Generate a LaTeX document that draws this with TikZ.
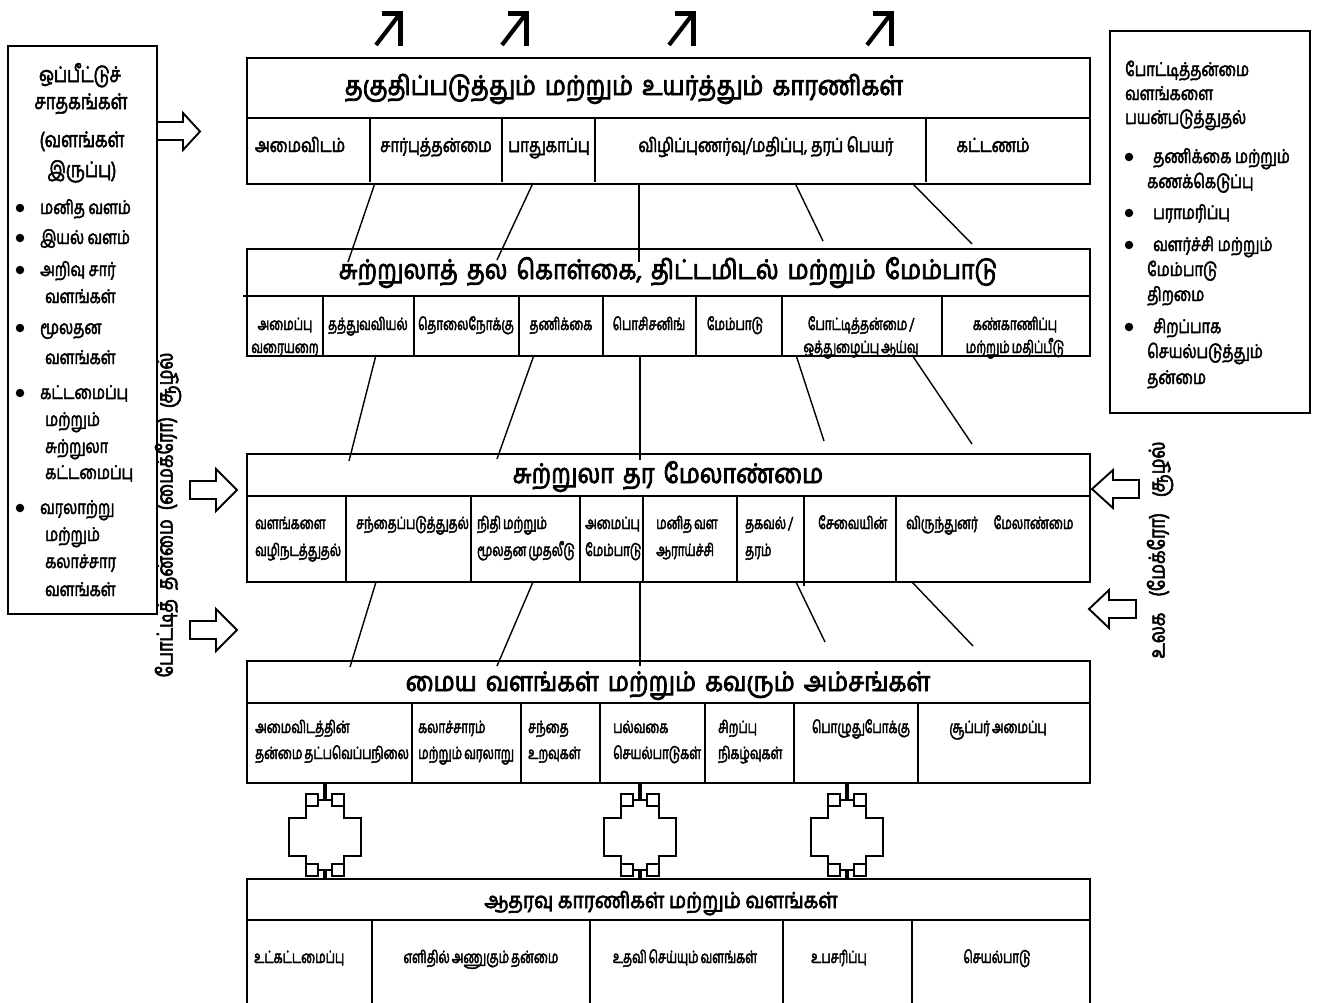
\documentclass[tikz,border=0pt]{standalone}
\usepackage{fontspec}
\setmainfont{Hind Madurai}[Script=Tamil]
\newfontfamily\tamT{Hind Madurai}[Script=Tamil, FakeStretch=0.87, FakeBold=3]
\newfontfamily\tamC{Hind Madurai}[Script=Tamil, FakeStretch=0.69, FakeBold=2.5, WordSpace=0.7]
\newfontfamily\tamS{Hind Madurai}[Script=Tamil, FakeStretch=0.77, FakeBold=2.5]
\newfontfamily\tamR{Hind Madurai}[Script=Tamil, FakeStretch=0.80, FakeBold=2.8]
\newcommand\ornmt[1]{%
  \begin{scope}[shift={(#1,0)}]
    \draw[stem] (0,782) -- (0,800);
    \draw[orn] (-7,800) -- (7,800);
    \draw[orn] (-19,794) rectangle (-7,806);
    \draw[orn] (7,794) rectangle (19,806);
    \draw[orn] (-19,806) -- (-19,818) -- (-36,818) -- (-36,856) -- (-19,856) -- (-19,864);
    \draw[orn] (19,806) -- (19,818) -- (36,818) -- (36,856) -- (19,856) -- (19,864);
    \draw[orn] (-19,864) rectangle (-7,876);
    \draw[orn] (7,864) rectangle (19,876);
    \draw[orn] (-7,870) -- (7,870);
    \draw[stem] (0,870) -- (0,880);
  \end{scope}}
\newcommand\smallarrow[1]{%
  \draw[sarr,line cap=butt] (#1+2,45) -- (#1+25,15);
  \draw[sarr,line cap=butt,line join=miter] (#1+8,13.5) -- (#1+26.5,13.5) -- (#1+26.5,46);}
\newcommand\wsp{\hspace{9pt}}
\begin{document}
\begin{tikzpicture}[x=1pt,y=-1pt,
  lay/.style={draw,line width=2pt,inner sep=0pt,anchor=north west,minimum width=843},
  rule/.style={line width=1.8pt},
  cdiv/.style={line width=1.5pt},
  conn/.style={line width=1.4pt},
  ttl/.style={font=\tamT\fontsize{27}{30}\selectfont,inner sep=0pt,anchor=base},
  cell/.style={font=\tamC\fontsize{17}{25}\selectfont,inner sep=0pt,anchor=base},
  cellw/.style={cell,anchor=base west},
  cellL/.style={font=\tamS\fontsize{19.5}{25}\selectfont,inner sep=0pt,anchor=base},
  side/.style={font=\tamS\fontsize{19}{26}\selectfont,inner sep=0pt,anchor=base west},
  sidec/.style={font=\tamS\fontsize{21.5}{26}\selectfont,inner sep=0pt,anchor=base},
  rot/.style={font=\tamR\fontsize{22}{24}\selectfont,inner sep=0pt,rotate=90},
  barrow/.style={draw,line width=1.9pt,line join=miter},
  stem/.style={line width=3.6pt},
  orn/.style={line width=1.8pt},
  sarr/.style={line width=4.2pt},
  bul/.style={fill,circle,inner sep=0pt,minimum size=8.5}
]
\useasboundingbox (0,0) rectangle (1317,1002);

% top small arrows
\smallarrow{374}
\smallarrow{500}
\smallarrow{667}
\smallarrow{865}

% ---------- layer 1
\node[lay,minimum height=126] (L1) at (246,57) {};
\draw[rule] (246,118) -- (1089,118);
\foreach \x in {370,502,595,926} \draw[cdiv] (\x,118) -- (\x,182);
\node[ttl] (t1) at (624,95) {தகுதிப்படுத்தும்\wsp மற்றும்\wsp உயர்த்தும்\wsp காரணிகள்};
\node[cellL] (a1) at (300,152) {அமைவிடம்};
\node[cellL] (a2) at (436,152) {சார்புத்தன்மை};
\node[cellL] (a3) at (549,152) {பாதுகாப்பு};
\node[cellL] (a4) at (766,152) {விழிப்புணர்வு/மதிப்பு, தரப் பெயர்};
\node[cellL] (a5) at (993,152) {கட்டணம்};

% ---------- layer 2
\node[lay,minimum height=107] (L2) at (246,248) {};
\draw[rule] (243,296) -- (1089,296);
\foreach \x in {323,414,519,603,696,782,942} \draw[cdiv] (\x,296) -- (\x,355);
\node[ttl] (t2) at (668,279) {சுற்றுலாத்\wsp தல\wsp கொள்கை,\wsp திட்டமிடல்\wsp மற்றும்\wsp மேம்பாடு};
\node[cell] (b1a) at (285,330) {அமைப்பு};
\node[cell] (b1b) at (285,353) {வரையறை};
\node[cell] (b2) at (368,330) {தத்துவவியல்};
\node[cell] (b3) at (466,330) {தொலைநோக்கு};
\node[cell] (b4) at (561,330) {தணிக்கை};
\node[cell] (b5) at (649,330) {பொசிசனிங்};
\node[cell] (b6) at (735,330) {மேம்பாடு};
\node[cell] (b7a) at (861,330) {போட்டித்தன்மை /};
\node[cell] (b7b) at (861,353) {ஒத்துழைப்பு ஆய்வு};
\node[cell] (b8a) at (1015,330) {கண்காணிப்பு};
\node[cell] (b8b) at (1015,353) {மற்றும் மதிப்பீடு};

% ---------- layer 3
\node[lay,minimum height=128] (L3) at (246,453) {};
\draw[rule] (246,496) -- (1089,496);
\foreach \x in {346,471,580,643,737,896} \draw[cdiv] (\x,496) -- (\x,581);
\draw[cdiv] (804,496) -- (804,586);
\node[ttl] (t3) at (668,483) {சுற்றுலா\wsp தர\wsp மேலாண்மை};
\node[cellw] (c1a) at (255,529) {வளங்களை};
\node[cellw] (c1b) at (255,556) {வழிநடத்துதல்};
\node[cellw] (c2) at (356,529) {சந்தைப்படுத்துதல்};
\node[cellw] (c3a) at (477,529) {நிதி மற்றும்};
\node[cellw] (c3b) at (477,556) {மூலதன முதலீடு};
\node[cellw] (c4a) at (585,529) {அமைப்பு};
\node[cellw] (c4b) at (585,556) {மேம்பாடு};
\node[cellw] (c5a) at (656,529) {மனித வள};
\node[cellw] (c5b) at (656,556) {ஆராய்ச்சி};
\node[cellw] (c6a) at (745,529) {தகவல் /};
\node[cellw] (c6b) at (745,556) {தரம்};
\node[cellw] (c7) at (818,529) {சேவையின்};
\node[cellw] (c8) at (906,529) {விருந்துனர்\hspace{16pt}மேலாண்மை};

% ---------- layer 4
\node[lay,minimum height=122] (L4) at (246,660) {};
\draw[rule] (246,703) -- (1089,703);
\foreach \x in {412,521,600,705,794,918} \draw[cdiv] (\x,703) -- (\x,782);
\node[ttl] (t4) at (668,691) {மைய\wsp வளங்கள்\wsp மற்றும்\wsp கவரும்\wsp அம்சங்கள்};
\node[cellw] (d1a) at (255,733) {அமைவிடத்தின்};
\node[cellw] (d1b) at (255,759) {தன்மை தட்பவெப்பநிலை};
\node[cellw] (d2a) at (418,733) {கலாச்சாரம்};
\node[cellw] (d2b) at (418,759) {மற்றும் வரலாறு};
\node[cellw] (d3a) at (528,733) {சந்தை};
\node[cellw] (d3b) at (528,759) {உறவுகள்};
\node[cellw] (d4a) at (613,733) {பல்வகை};
\node[cellw] (d4b) at (613,759) {செயல்பாடுகள்};
\node[cellw] (d5a) at (718,733) {சிறப்பு};
\node[cellw] (d5b) at (718,759) {நிகழ்வுகள்};
\node[cell] (d6) at (861,733) {பொழுதுபோக்கு};
\node[cell] (d7) at (998,733) {சூப்பர் அமைப்பு};

% ---------- layer 5
\node[lay,minimum height=140] (L5) at (246,878) {};
\draw[rule] (246,920) -- (1089,920);
\foreach \x in {372,590,783,912} \draw[cdiv] (\x,920) -- (\x,1010);
\node[ttl,font=\tamT\fontsize{22}{26}\selectfont] (t5) at (661,908) {ஆதரவு காரணிகள் மற்றும் வளங்கள்};
\node[cellw] (e1) at (254,963) {உட்கட்டமைப்பு};
\node[cell] (e2) at (481,963) {எளிதில் அணுகும் தன்மை};
\node[cell] (e3) at (685,963) {உதவி செய்யும் வளங்கள்};
\node[cell] (e4) at (839,963) {உபசரிப்பு};
\node[cell] (e5) at (997,963) {செயல்பாடு};

% ---------- connectors
\foreach \a/\b/\c/\d in {375/183/348/262, 533/183/497/260, 639/183/639/262, 795/183/823/241, 912/183/972/244,
  376/355/349/461, 534/355/497/459, 640/355/640/460, 796/355/824/441, 912/355/972/444,
  376/582/350/667, 533/582/497/666, 640/582/640/666, 796/582/825/642, 912/582/973/646}
  {\coordinate (p) at (\a,\b); \coordinate (q) at (\c,\d); \draw[conn] (p) -- (q);}

% ornaments
\ornmt{325}
\ornmt{640}
\ornmt{847}

% ---------- left box
\node[draw,line width=2pt,anchor=north west,minimum width=149,minimum height=568,inner sep=0pt] (LB) at (7,45) {};
\node[sidec] (l1) at (80,82) {ஒப்பீட்டுச்};
\node[sidec] (l2) at (81,109) {சாதகங்கள்};
\node[sidec] (l3) at (82,147) {(வளங்கள்};
\node[sidec] (l4) at (82,177) {இருப்பு)};
\foreach \y [count=\i] in {208,238,270,328,393,508} \node[bul] (lbb\i) at (20,\y) {};
\node[side] (l5) at (40,214) {மனித வளம்};
\node[side] (l6) at (40,244) {இயல் வளம்};
\node[side] (l7) at (40,276) {அறிவு சார்};
\node[side] (l8) at (45,303) {வளங்கள்};
\node[side] (l9) at (40,334) {மூலதன};
\node[side] (l10) at (45,364) {வளங்கள்};
\node[side] (l11) at (40,399) {கட்டமைப்பு};
\node[side] (l12) at (45,426) {மற்றும்};
\node[side] (l13) at (45,453) {சுற்றுலா};
\node[side] (l14) at (45,479) {கட்டமைப்பு};
\node[side] (l15) at (40,514) {வரலாற்று};
\node[side] (l16) at (45,541) {மற்றும்};
\node[side] (l17) at (45,568) {கலாச்சார};
\node[side] (l18) at (45,596) {வளங்கள்};

% ---------- right box
\node[draw,line width=2pt,anchor=north west,minimum width=200,minimum height=382,inner sep=0pt] (RB) at (1109,30) {};
\node[side] (r1) at (1125,76) {போட்டித்தன்மை};
\node[side] (r2) at (1125,100) {வளங்களை};
\node[side] (r3) at (1125,124) {பயன்படுத்துதல்};
\foreach \y [count=\i] in {157,213,245,327} \node[bul] (rbb\i) at (1129,\y) {};
\node[side] (r4) at (1153,163) {தணிக்கை மற்றும்};
\node[side] (r5) at (1147,188) {கணக்கெடுப்பு};
\node[side] (r6) at (1153,219) {பராமரிப்பு};
\node[side] (r7) at (1153,251) {வளர்ச்சி மற்றும்};
\node[side] (r8) at (1147,276) {மேம்பாடு};
\node[side] (r9) at (1147,301) {திறமை};
\node[side] (r10) at (1153,333) {சிறப்பாக};
\node[side] (r11) at (1147,358) {செயல்படுத்தும்};
\node[side] (r12) at (1147,384) {தன்மை};

% ---------- rotated labels
\node[rot] (micro) at (168,515) {போட்டித்\wsp தன்மை\wsp (மைக்ரோ)\wsp சூழல்};
\node[rot] (macro) at (1160,550) {உலக\hspace{16pt}(மேக்ரோ)\hspace{16pt}சூழல்};

% ---------- block arrows
\draw[barrow] (156,122) -- (183,122) -- (183,113) -- (200,131.5) -- (183,150) -- (183,140) -- (156,140);
\draw[barrow] (190,481) -- (216,481) -- (216,469) -- (237,490) -- (216,511) -- (216,499) -- (190,499) -- cycle;
\draw[barrow] (190,621) -- (216,621) -- (216,609) -- (237,630) -- (216,651) -- (216,639) -- (190,639) -- cycle;
\draw[barrow] (1139,480) -- (1113,480) -- (1113,470) -- (1092,489) -- (1113,508) -- (1113,498) -- (1139,498) -- cycle;
\draw[barrow] (1136,600) -- (1109,600) -- (1109,590) -- (1089,609) -- (1109,628) -- (1109,618) -- (1136,618) -- cycle;
\end{tikzpicture}
\end{document}
